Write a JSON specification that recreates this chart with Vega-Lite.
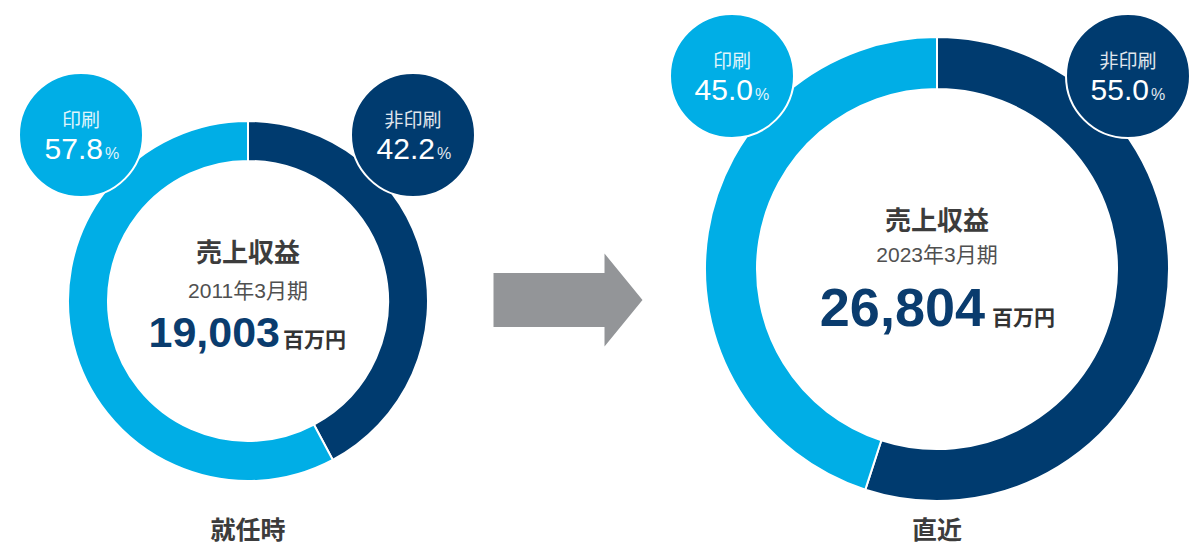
{
  "$schema": "https://vega.github.io/schema/vega-lite/v6.json",
  "width": 1189,
  "height": 544,
  "autosize": {"type": "fit", "contains": "padding"},
  "padding": 0,
  "background": "white",
  "config": {
    "view": {"stroke": null},
    "font": "Liberation Sans, Noto Sans CJK JP",
    "text": {"font": "Liberation Sans, Noto Sans CJK JP"}
  },
  "datasets": {
    "share": [
      {"period": "就任時", "category": "非印刷", "share": 42.2},
      {"period": "就任時", "category": "印刷", "share": 57.8},
      {"period": "直近", "category": "非印刷", "share": 55.0},
      {"period": "直近", "category": "印刷", "share": 45.0}
    ],
    "revenue": [
      {"period": "就任時", "fiscal": "2011年3月期", "revenue": 19003},
      {"period": "直近", "fiscal": "2023年3月期", "revenue": 26804}
    ]
  },
  "resolve": {"scale": {"xOffset": "independent"}},
  "layer": [
    {
      "data": {"name": "share"},
      "transform": [{"filter": "datum.period === '就任時'"}],
      "mark": {"type": "arc", "outerRadius": 180, "innerRadius": 140, "stroke": "white", "strokeWidth": 2},
      "encoding": {
        "x": {"field": "period", "type": "nominal", "scale": {"type": "point", "domain": ["就任時", "直近"], "range": [248, 937], "padding": 0}, "axis": null},
        "y": {"field": "period", "type": "nominal", "scale": {"type": "point", "domain": ["就任時", "直近"], "range": [301, 269], "padding": 0}, "axis": null},
        "theta": {"field": "share", "type": "quantitative", "stack": true, "scale": {"domain": [0, 100]}},
        "order": {"field": "category", "sort": "descending"},
        "color": {"field": "category", "type": "nominal", "scale": {"domain": ["印刷", "非印刷"], "range": ["#00AEE6", "#003B6F"]}, "legend": null}
      }
    },
    {
      "data": {"name": "share"},
      "transform": [{"filter": "datum.period === '直近'"}],
      "mark": {"type": "arc", "outerRadius": 232, "innerRadius": 180, "stroke": "white", "strokeWidth": 2},
      "encoding": {
        "x": {"field": "period", "type": "nominal", "axis": null},
        "y": {"field": "period", "type": "nominal", "axis": null},
        "theta": {"field": "share", "type": "quantitative", "stack": true},
        "order": {"field": "category", "sort": "descending"},
        "color": {"field": "category", "type": "nominal", "legend": null}
      }
    },
    {
      "data": {"name": "share"},
      "transform": [{"filter": "datum.period === '就任時'"}],
      "mark": {"type": "point", "shape": "circle", "filled": true, "opacity": 1, "size": 15376, "stroke": "white", "strokeWidth": 2, "yOffset": -166},
      "encoding": {
        "x": {"field": "period", "type": "nominal", "axis": null},
        "y": {"field": "period", "type": "nominal", "axis": null},
        "xOffset": {"field": "category", "type": "nominal", "scale": {"type": "point", "domain": ["印刷", "非印刷"], "range": [-167, 165], "padding": 0}},
        "color": {"field": "category", "type": "nominal", "legend": null}
      }
    },
    {
      "data": {"name": "share"},
      "transform": [{"filter": "datum.period === '就任時'"}],
      "mark": {"type": "text", "fontSize": 19, "color": "white", "opacity": 0.88, "baseline": "middle", "yOffset": -180},
      "encoding": {
        "x": {"field": "period", "type": "nominal", "axis": null},
        "y": {"field": "period", "type": "nominal", "axis": null},
        "xOffset": {"field": "category", "type": "nominal", "scale": {"type": "point", "domain": ["印刷", "非印刷"], "range": [-167, 165], "padding": 0}},
        "text": {"field": "category", "type": "nominal"}
      }
    },
    {
      "data": {"name": "share"},
      "transform": [{"filter": "datum.period === '就任時'"}],
      "mark": {"type": "text", "fontSize": 30, "color": "white", "align": "right", "dx": 22, "baseline": "alphabetic", "yOffset": -142},
      "encoding": {
        "x": {"field": "period", "type": "nominal", "axis": null},
        "y": {"field": "period", "type": "nominal", "axis": null},
        "xOffset": {"field": "category", "type": "nominal", "scale": {"type": "point", "domain": ["印刷", "非印刷"], "range": [-167, 165], "padding": 0}},
        "text": {"field": "share", "type": "quantitative", "format": ".1f"}
      }
    },
    {
      "data": {"name": "share"},
      "transform": [{"filter": "datum.period === '就任時'"}],
      "mark": {"type": "text", "text": "%", "fontSize": 16, "color": "white", "opacity": 0.88, "align": "left", "dx": 24, "baseline": "alphabetic", "yOffset": -142},
      "encoding": {
        "x": {"field": "period", "type": "nominal", "axis": null},
        "y": {"field": "period", "type": "nominal", "axis": null},
        "xOffset": {"field": "category", "type": "nominal", "scale": {"type": "point", "domain": ["印刷", "非印刷"], "range": [-167, 165], "padding": 0}}
      }
    },
    {
      "data": {"name": "share"},
      "transform": [{"filter": "datum.period === '直近'"}],
      "mark": {"type": "point", "shape": "circle", "filled": true, "opacity": 1, "size": 15376, "stroke": "white", "strokeWidth": 2, "yOffset": -193},
      "encoding": {
        "x": {"field": "period", "type": "nominal", "axis": null},
        "y": {"field": "period", "type": "nominal", "axis": null},
        "xOffset": {"field": "category", "type": "nominal", "scale": {"type": "point", "domain": ["印刷", "非印刷"], "range": [-205, 191], "padding": 0}},
        "color": {"field": "category", "type": "nominal", "legend": null}
      }
    },
    {
      "data": {"name": "share"},
      "transform": [{"filter": "datum.period === '直近'"}],
      "mark": {"type": "text", "fontSize": 19, "color": "white", "opacity": 0.88, "baseline": "middle", "yOffset": -207},
      "encoding": {
        "x": {"field": "period", "type": "nominal", "axis": null},
        "y": {"field": "period", "type": "nominal", "axis": null},
        "xOffset": {"field": "category", "type": "nominal", "scale": {"type": "point", "domain": ["印刷", "非印刷"], "range": [-205, 191], "padding": 0}},
        "text": {"field": "category", "type": "nominal"}
      }
    },
    {
      "data": {"name": "share"},
      "transform": [{"filter": "datum.period === '直近'"}],
      "mark": {"type": "text", "fontSize": 30, "color": "white", "align": "right", "dx": 21, "baseline": "alphabetic", "yOffset": -169},
      "encoding": {
        "x": {"field": "period", "type": "nominal", "axis": null},
        "y": {"field": "period", "type": "nominal", "axis": null},
        "xOffset": {"field": "category", "type": "nominal", "scale": {"type": "point", "domain": ["印刷", "非印刷"], "range": [-205, 191], "padding": 0}},
        "text": {"field": "share", "type": "quantitative", "format": ".1f"}
      }
    },
    {
      "data": {"name": "share"},
      "transform": [{"filter": "datum.period === '直近'"}],
      "mark": {"type": "text", "text": "%", "fontSize": 16, "color": "white", "opacity": 0.88, "align": "left", "dx": 23, "baseline": "alphabetic", "yOffset": -169},
      "encoding": {
        "x": {"field": "period", "type": "nominal", "axis": null},
        "y": {"field": "period", "type": "nominal", "axis": null},
        "xOffset": {"field": "category", "type": "nominal", "scale": {"type": "point", "domain": ["印刷", "非印刷"], "range": [-205, 191], "padding": 0}}
      }
    },
    {
      "data": {"name": "revenue"},
      "mark": {"type": "text", "text": "売上収益", "fontSize": 26, "fontWeight": "bold", "color": "#3c3c3c", "baseline": "middle", "yOffset": -47},
      "encoding": {
        "x": {"field": "period", "type": "nominal", "axis": null},
        "y": {"field": "period", "type": "nominal", "axis": null}
      }
    },
    {
      "data": {"name": "revenue"},
      "transform": [{"filter": "datum.period === '就任時'"}],
      "mark": {"type": "text", "fontSize": 21, "color": "#505050", "baseline": "middle", "yOffset": -9},
      "encoding": {
        "x": {"field": "period", "type": "nominal", "axis": null},
        "y": {"field": "period", "type": "nominal", "axis": null},
        "text": {"field": "fiscal", "type": "nominal"}
      }
    },
    {
      "data": {"name": "revenue"},
      "transform": [{"filter": "datum.period === '直近'"}],
      "mark": {"type": "text", "fontSize": 21, "color": "#505050", "baseline": "middle", "yOffset": -13},
      "encoding": {
        "x": {"field": "period", "type": "nominal", "axis": null},
        "y": {"field": "period", "type": "nominal", "axis": null},
        "text": {"field": "fiscal", "type": "nominal"}
      }
    },
    {
      "data": {"name": "revenue"},
      "transform": [{"filter": "datum.period === '就任時'"}],
      "mark": {"type": "text", "fontSize": 43, "fontWeight": "bold", "color": "#0A3C6E", "align": "right", "dx": 32, "baseline": "alphabetic", "yOffset": 46},
      "encoding": {
        "x": {"field": "period", "type": "nominal", "axis": null},
        "y": {"field": "period", "type": "nominal", "axis": null},
        "text": {"field": "revenue", "type": "quantitative", "format": ","}
      }
    },
    {
      "data": {"name": "revenue"},
      "transform": [{"filter": "datum.period === '就任時'"}],
      "mark": {"type": "text", "text": "百万円", "fontSize": 21, "fontWeight": "bold", "color": "#333333", "align": "left", "dx": 35, "baseline": "alphabetic", "yOffset": 46},
      "encoding": {
        "x": {"field": "period", "type": "nominal", "axis": null},
        "y": {"field": "period", "type": "nominal", "axis": null}
      }
    },
    {
      "data": {"name": "revenue"},
      "transform": [{"filter": "datum.period === '直近'"}],
      "mark": {"type": "text", "fontSize": 54, "fontWeight": "bold", "color": "#0A3C6E", "align": "right", "dx": 48, "baseline": "alphabetic", "yOffset": 57},
      "encoding": {
        "x": {"field": "period", "type": "nominal", "axis": null},
        "y": {"field": "period", "type": "nominal", "axis": null},
        "text": {"field": "revenue", "type": "quantitative", "format": ","}
      }
    },
    {
      "data": {"name": "revenue"},
      "transform": [{"filter": "datum.period === '直近'"}],
      "mark": {"type": "text", "text": "百万円", "fontSize": 21, "fontWeight": "bold", "color": "#333333", "align": "left", "dx": 55, "baseline": "alphabetic", "yOffset": 56},
      "encoding": {
        "x": {"field": "period", "type": "nominal", "axis": null},
        "y": {"field": "period", "type": "nominal", "axis": null}
      }
    },
    {
      "data": {"name": "revenue"},
      "mark": {"type": "text", "fontSize": 25, "fontWeight": "bold", "color": "#3c3c3c", "baseline": "middle", "yOffset": 259},
      "encoding": {
        "x": {"field": "period", "type": "nominal", "axis": null},
        "text": {"field": "period", "type": "nominal"}
      }
    },
    {
      "data": {"values": [{"from": "就任時", "to": "直近"}]},
      "mark": {"type": "point", "shape": "M-1,-0.362L0.49,-0.362L0.49,-0.624L1,0L0.49,0.624L0.49,0.362L-1,0.362Z", "size": 22201, "filled": true, "opacity": 1, "color": "#939598", "strokeWidth": 0, "xOffset": -24, "yOffset": 28},
      "encoding": {}
    }
  ]
}
